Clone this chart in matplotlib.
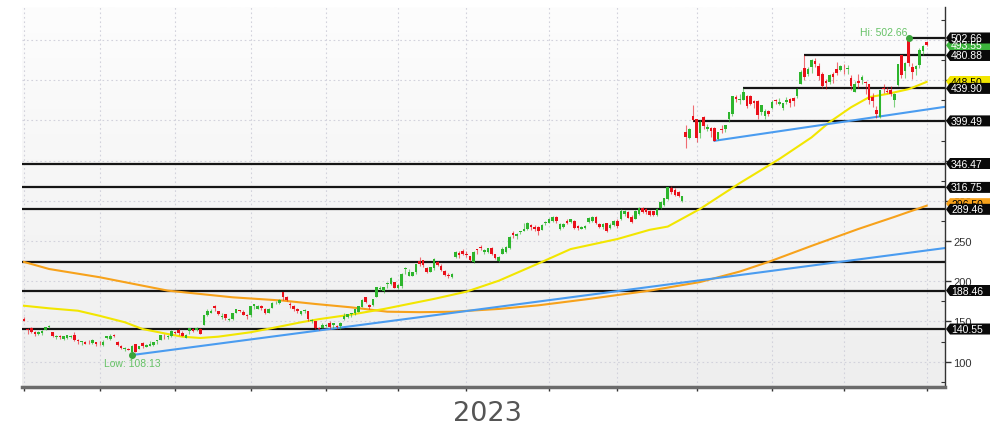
import numpy as np
import matplotlib.pyplot as plt
from matplotlib.patches import Polygon
from matplotlib.transforms import IdentityTransform
from matplotlib.colors import LinearSegmentedColormap

# daily candles, 31 Aug 2022 .. 31 Aug 2023 (one row per month in each list)
opens = [
    153.0,
    141.0, 141.9, 137.0, 134.4, 135.5, 139.8, 143.6, 136.8, 131.0, 131.3, 128.0, 129.3, 130.9, 133.0, 126.0, 124.6, 124.0, 125.0, 123.4, 124.3, 122.0,
    120.8, 128.9, 128.4, 132.9, 125.0, 119.4, 115.5, 115.5, 112.2, 121.9, 116.0, 122.8, 118.2, 120.0, 121.0, 126.0, 126.8, 129.5, 130.9, 131.5, 137.4,
    139.0, 136.0, 129.7, 137.5, 141.0, 139.0, 140.7, 146.0, 158.5, 161.0, 169.0, 162.5, 155.0, 159.0, 152.0, 153.0, 160.7, 163.6, 162.0, 158.0, 158.0,
    169.5, 166.0, 169.5, 166.0, 160.5, 167.0, 172.5, 173.0, 186.0, 180.0, 172.0, 169.0, 166.0, 159.5, 162.5, 162.5, 151.0, 150.0, 141.0, 142.0, 144.0,
    148.5, 145.7, 144.9, 144.7, 152.8, 155.1, 158.9, 161.0, 162.0, 168.5, 180.0, 171.0, 171.0, 180.0, 190.0, 188.0, 196.0, 196.5, 198.5, 191.0,
    194.5, 215.0, 207.0, 207.0, 211.0, 225.0, 226.0, 217.0, 212.0, 216.5, 224.0, 218.5, 212.5, 207.0, 205.0, 230.0, 235.5, 238.0, 234.0,
    231.0, 224.0, 240.0, 242.0, 236.5, 236.5, 241.5, 234.0, 225.5, 234.0, 236.5, 241.0, 259.5, 256.0, 261.0, 263.0, 265.5, 270.5, 268.0, 268.0, 264.0, 272.0, 273.0,
    275.0, 279.5, 265.0, 267.5, 275.5, 273.5, 275.0, 269.0, 265.5, 266.5, 274.0, 275.0, 279.5, 271.0, 267.5, 272.0, 266.0, 270.5, 275.5,
    277.5, 284.0, 286.5, 280.0, 277.5, 283.5, 290.5, 290.0, 287.5, 287.0, 282.0, 291.0, 295.0, 302.5, 316.5, 314.0, 311.5, 299.5, 385.2, 378.0, 405.0, 401.5,
    384.0, 404.0, 390.0, 391.0, 391.0, 377.0, 390.0, 389.0, 402.0, 408.0, 429.0, 426.0, 426.0, 431.0, 430.5, 424.0, 424.0, 410.0, 405.0, 412.0, 415.0,
    425.0, 421.0, 415.0, 423.0, 427.0, 428.0, 430.0, 446.0, 465.0, 458.0, 466.0, 474.0, 468.0, 458.0, 449.0, 448.0, 458.0, 464.0, 463.0, 468.0,
    464.0, 453.0, 436.0, 449.0, 450.0, 448.0, 445.0, 429.0, 413.0, 404.0, 440.0, 437.0, 438.0, 426.0, 444.0, 482.0, 462.0, 502.2, 467.0, 464.0, 469.0, 486.0, 497.8,
]
highs = [
    155.4,
    141.8, 142.8, 137.9, 138.1, 138.8, 143.5, 145.3, 137.1, 133.4, 133.0, 131.4, 133.3, 133.6, 137.0, 127.6, 126.0, 126.0, 127.0, 127.7, 124.4, 125.5,
    126.7, 132.2, 134.0, 133.9, 125.9, 120.2, 118.6, 116.8, 120.5, 122.0, 119.3, 124.0, 122.4, 125.9, 125.0, 127.4, 133.2, 134.0, 133.0, 139.0, 138.0,
    140.0, 137.5, 134.0, 142.0, 141.5, 143.5, 141.6, 158.3, 165.0, 165.6, 170.0, 162.8, 160.0, 159.8, 154.5, 160.5, 166.0, 164.5, 164.6, 158.8, 169.6,
    171.7, 170.6, 170.0, 166.5, 167.0, 174.5, 176.0, 177.5, 187.0, 182.0, 174.0, 170.0, 166.5, 163.0, 165.0, 163.0, 152.5, 150.5, 143.5, 147.5, 146.5,
    149.9, 148.5, 145.2, 149.5, 160.6, 159.6, 160.5, 165.8, 169.1, 178.4, 180.9, 172.0, 178.5, 193.0, 194.5, 193.0, 199.0, 205.0, 199.5, 196.0,
    210.0, 218.0, 215.0, 212.0, 222.0, 230.0, 227.0, 218.0, 218.0, 229.0, 225.0, 221.0, 214.5, 210.0, 210.0, 238.0, 237.0, 240.0, 237.5,
    232.0, 237.0, 240.5, 245.5, 240.5, 241.8, 242.0, 234.5, 232.0, 242.0, 243.5, 256.0, 263.0, 260.5, 263.0, 272.0, 274.0, 271.0, 269.5, 268.5, 271.0, 275.0, 278.5,
    281.0, 281.0, 272.0, 273.0, 277.0, 278.0, 276.0, 270.0, 269.0, 270.0, 280.0, 281.0, 281.0, 273.0, 272.5, 273.0, 272.0, 276.0, 278.0,
    290.0, 289.0, 288.0, 283.0, 288.5, 292.5, 292.0, 291.0, 289.0, 288.0, 290.5, 300.0, 304.0, 317.0, 318.0, 315.5, 312.5, 306.0, 394.8, 391.0, 419.4, 402.0,
    400.0, 405.0, 396.0, 392.0, 392.0, 386.0, 394.0, 395.0, 411.0, 430.0, 432.0, 433.0, 439.9, 432.0, 432.0, 425.0, 425.0, 419.0, 414.0, 413.0, 426.0,
    427.0, 428.0, 422.0, 429.0, 428.0, 429.0, 441.0, 463.0, 480.88, 467.0, 477.0, 478.0, 471.0, 460.0, 452.0, 458.0, 460.0, 473.0, 469.0, 470.0,
    469.0, 456.0, 449.0, 458.0, 456.0, 449.0, 446.0, 434.0, 418.0, 437.7, 445.0, 442.0, 443.0, 434.0, 470.5, 482.0, 472.5, 502.66, 472.0, 469.0, 490.5, 493.5, 499.0,
]
lows = [
    150.2,
    134.6, 135.6, 132.0, 133.5, 133.4, 139.7, 141.8, 131.0, 128.5, 128.6, 126.6, 128.0, 129.6, 126.2, 122.0, 121.1, 121.9, 121.5, 121.5, 119.3, 120.7,
    119.5, 127.9, 127.3, 130.2, 119.9, 115.6, 113.7, 114.5, 108.13, 112.2, 115.3, 116.6, 117.8, 119.8, 119.0, 122.2, 126.5, 128.0, 128.0, 131.0, 134.5,
    133.2, 131.8, 128.9, 134.5, 136.8, 138.0, 134.3, 145.5, 156.7, 160.0, 163.2, 158.0, 153.5, 152.0, 150.0, 152.0, 160.0, 162.0, 157.6, 152.5, 155.7,
    165.5, 165.0, 164.7, 159.0, 160.0, 166.5, 171.5, 171.5, 177.0, 175.0, 167.0, 163.5, 160.0, 158.5, 160.0, 150.0, 148.0, 140.5, 139.5, 141.5, 142.5,
    140.9, 142.0, 141.0, 140.3, 151.4, 154.6, 155.2, 158.0, 161.9, 168.3, 173.3, 164.9, 169.8, 180.0, 188.5, 185.0, 192.0, 195.5, 191.0, 190.5,
    191.0, 209.0, 206.0, 206.0, 209.0, 219.0, 218.0, 210.0, 211.0, 214.0, 219.0, 213.0, 206.5, 204.5, 204.0, 229.0, 229.5, 232.5, 230.5,
    225.0, 223.0, 234.0, 238.5, 234.5, 235.5, 233.0, 227.5, 224.5, 233.5, 235.5, 240.0, 253.5, 252.0, 259.0, 262.0, 263.5, 264.0, 263.0, 258.0, 263.5, 270.0, 272.5,
    274.0, 273.0, 264.0, 266.5, 271.0, 272.5, 265.5, 264.0, 264.5, 265.0, 272.0, 274.0, 271.0, 266.0, 265.5, 261.5, 265.5, 269.0, 266.0,
    276.5, 281.5, 278.5, 273.0, 277.0, 283.0, 285.0, 284.0, 281.0, 281.5, 281.0, 290.0, 294.0, 301.5, 309.0, 306.0, 305.0, 298.5, 366.3, 377.0, 399.49, 373.5,
    378.0, 390.0, 387.0, 380.0, 374.75, 376.0, 385.0, 386.0, 398.0, 405.0, 423.0, 421.0, 425.0, 415.0, 419.0, 416.0, 401.5, 407.0, 402.0, 405.0, 414.0,
    420.0, 419.0, 413.0, 420.0, 417.0, 418.0, 428.0, 445.0, 450.0, 455.0, 459.0, 467.0, 450.0, 440.0, 439.0, 446.0, 447.0, 456.0, 461.0, 458.0,
    458.0, 438.0, 435.0, 440.0, 446.0, 433.0, 420.0, 417.0, 403.0, 403.0, 434.0, 434.0, 431.0, 417.0, 443.0, 453.0, 453.0, 468.2, 452.0, 456.0, 465.0, 482.0, 492.5,
]
closes = [
    150.9,
    139.4, 136.5, 134.4, 137.1, 138.0, 142.9, 144.5, 131.3, 132.0, 130.4, 131.3, 132.6, 131.6, 126.7, 125.6, 125.2, 122.3, 124.1, 127.1, 122.0, 121.4,
    124.7, 131.9, 132.0, 131.3, 120.8, 116.7, 115.9, 115.0, 119.6, 112.3, 118.9, 119.7, 120.5, 121.9, 124.7, 126.0, 132.6, 129.0, 131.8, 138.3, 135.0,
    135.4, 132.0, 133.4, 141.6, 137.5, 142.0, 134.4, 157.5, 163.3, 163.3, 166.7, 159.1, 156.8, 154.1, 153.2, 160.4, 165.2, 163.2, 158.5, 156.8, 169.2,
    171.3, 168.8, 166.5, 159.9, 165.5, 173.5, 173.0, 177.0, 181.0, 176.5, 170.0, 165.5, 162.5, 162.5, 164.5, 153.5, 152.0, 141.2, 140.4, 146.0, 146.1,
    143.2, 147.5, 142.7, 148.6, 156.3, 159.1, 160.0, 165.1, 169.0, 177.0, 173.8, 168.2, 178.4, 192.4, 192.0, 193.0, 198.0, 203.6, 191.5, 195.4,
    209.4, 217.0, 211.0, 211.0, 221.5, 222.0, 220.0, 211.5, 217.5, 228.0, 220.0, 214.0, 207.5, 206.5, 208.5, 236.6, 233.0, 234.5, 232.2,
    226.5, 236.0, 238.9, 241.0, 239.0, 241.0, 234.0, 229.5, 230.0, 240.6, 242.3, 255.4, 257.3, 259.0, 262.0, 264.7, 271.9, 267.8, 265.3, 262.0, 269.8, 273.8, 277.8,
    279.7, 274.5, 271.0, 271.5, 272.5, 277.0, 266.5, 266.0, 267.5, 269.0, 279.0, 279.5, 272.0, 267.0, 271.5, 262.0, 270.5, 275.0, 268.5,
    288.0, 287.5, 279.0, 274.0, 287.5, 290.5, 286.5, 286.0, 282.0, 282.5, 289.5, 299.0, 303.0, 316.8, 311.0, 307.5, 306.5, 305.5, 379.8, 389.5, 401.1, 378.3,
    397.7, 393.3, 391.7, 386.5, 374.8, 385.1, 387.7, 394.8, 410.2, 430.0, 426.5, 426.9, 436.0, 418.5, 421.0, 422.1, 406.3, 418.8, 411.2, 408.2, 423.0,
    424.1, 423.0, 421.8, 425.0, 421.8, 424.0, 439.0, 459.8, 454.7, 464.6, 474.9, 470.8, 455.2, 443.1, 446.1, 456.8, 454.5, 459.0, 467.5, 467.3,
    465.1, 442.7, 445.2, 446.8, 454.2, 446.6, 425.5, 423.9, 408.6, 437.5, 439.4, 434.9, 433.4, 433.0, 469.7, 456.7, 471.2, 471.6, 460.2, 468.4, 487.8, 492.6, 493.6,
]

# last trading day of each month (bar index)
month_ends = [0, 21, 42, 63, 84, 104, 123, 146, 165, 187, 208, 228, 251]

# moving averages (bar index, value)
sma50_x = [0, 7, 15, 21, 28, 33, 40, 44, 49, 54, 63, 70, 77, 82, 91, 100, 114, 123, 132,
           143, 152, 165, 174, 179, 188, 199, 210, 219, 224, 230, 235, 240, 246, 251]
sma50_y = [169.5, 166.3, 163.3, 157.0, 149.0, 140.5, 134.3, 131.0, 129.4, 131.0, 136.5, 142.6,
           148.9, 152.8, 158.5, 165.4, 178.0, 187.0, 200.6, 222.0, 240.0, 252.5, 264.0, 268.0,
           290.0, 322.0, 352.0, 379.0, 398.0, 416.5, 429.0, 433.0, 439.0, 448.0]
sma200_x = [0, 7, 21, 40, 58, 72, 81, 91, 101, 110, 119, 132, 143, 157, 174, 188, 199, 207,
            219, 232, 242, 251]
sma200_y = [224.0, 215.2, 205.0, 188.3, 180.0, 175.9, 171.7, 167.5, 162.1, 161.5, 162.0, 165.5,
            170.0, 177.9, 188.3, 199.0, 212.0, 224.0, 244.0, 265.0, 280.0, 294.0]

# trend lines (start/end bar index and value)
trend_x = [[30, 256.1], [192, 256.1]]
trend_y = [[108.13, 241.3], [374.75, 417.0]]

# horizontal levels: value, first bar (None = whole width), tagged on the axis
levels = [502.66, 480.88, 439.90, 399.49, 346.47, 316.75, 289.46, 223.6, 188.46, 140.55]
level_start = [246, 217, 200, 186, None, None, None, None, None, None]
level_tag = [True, True, True, True, True, True, True, False, True, True]

yticks = [100, 150, 200, 250, 300, 350, 400, 450, 500]
ytick_labels = ["100", "150", "200", "250", "300", "", "", "", ""]  # upper ones sit under the tags

last_close = 493.55
sma50_last = 448.5
sma200_last = 296.5
hi_idx, hi_val = 246, 502.66
lo_idx, lo_val = 30, 108.13

XMIN, XMAX = -0.56, 256.1
YMIN, YMAX = 68.4, 541.2

fig = plt.figure(figsize=(9.9, 4.31), dpi=100)
ax = fig.add_axes([22 / 990, 43 / 431, 923 / 990, 380 / 431])

# soft vertical gradient behind the plot
grad = LinearSegmentedColormap.from_list("bg", ["#eeeeee", "#fdfdfd"])
ax.imshow(np.linspace(0, 1, 256)[:, None], cmap=grad, origin="lower", aspect="auto",
          extent=[XMIN, XMAX, YMIN, YMAX], zorder=0)

# levels
for v, s in zip(levels, level_start):
    x0 = XMIN if s is None else s
    ax.plot([x0, XMAX], [v, v], color="#151515", lw=1.6, zorder=2, solid_capstyle="butt")

# moving averages and trend lines
ax.plot(sma200_x, sma200_y, color="#f7a21b", lw=1.5, zorder=2.5)
ax.plot(sma50_x, sma50_y, color="#f2e600", lw=1.5, zorder=2.5)
for tx, ty in zip(trend_x, trend_y):
    ax.plot(tx, ty, color="#4a9cf0", lw=1.5, zorder=2.5)

# candles
x = np.arange(len(closes))
o = np.array(opens)
c = np.array(closes)
col = np.where(c >= o, "#2db52d", "#ea101a")
ax.vlines(x, lows, highs, colors=col, lw=0.8, alpha=0.6, zorder=3)
ax.bar(x, np.maximum(np.abs(c - o), 0.9), bottom=np.minimum(o, c), width=0.72,
       color=col, linewidth=0, zorder=4)

# hi / low markers
ax.plot([hi_idx, lo_idx], [hi_val, lo_val], "o", ms=4, color="#3aa43a", zorder=5)
ax.text(hi_idx - 0.3, 510.0, "Hi: 502.66", ha="right", va="center", color="#66c266",
        fontsize=7.5, family="Liberation Sans", zorder=5)
ax.text(lo_idx, 98.2, "Low: 108.13", ha="center", va="center", color="#66c266",
        fontsize=7.5, family="Liberation Sans", zorder=5)

ax.set_xlim(XMIN, XMAX)
ax.set_ylim(YMIN, YMAX)

# axes dressing
ax.set_xticks(month_ends)
ax.set_xticklabels([])
ax.yaxis.tick_right()
ax.set_yticks(yticks)
ax.set_yticklabels(ytick_labels)
ax.set_yticks(range(75, 526, 50), minor=True)
ax.tick_params(axis="y", which="major", direction="out", length=4, width=1, colors="#333333",
               labelsize=8, pad=2)
ax.tick_params(axis="y", which="minor", direction="in", length=3, width=0.8, colors="#333333")
ax.tick_params(axis="x", direction="out", length=3, width=1, colors="#333333")
for lab in ax.get_yticklabels():
    lab.set_family("Liberation Sans")
ax.grid(True, color="#d2d2dc", lw=0.8, ls=(0, (1.5, 2.5)), zorder=1)
ax.set_axisbelow(True)
for side in ["left", "top"]:
    ax.spines[side].set_visible(False)
ax.spines["bottom"].set_color("#6b6b6b")
ax.spines["bottom"].set_linewidth(2.5)
ax.spines["right"].set_color("#333333")
ax.spines["right"].set_linewidth(1)

fig.text(487 / 990, 1 - 414 / 431, "2023", ha="center", va="center", fontsize=19.5, color="#555555")


# value tags on the right axis, drawn in pixel space
def tag(val, text, fc, tc):
    yp = ax.transData.transform((0, val))[1]
    xp = ax.transAxes.transform((1, 0))[0]
    h = 5.5
    pts = [(xp + 1, yp), (xp + 5, yp + h), (xp + 60, yp + h), (xp + 60, yp - h), (xp + 5, yp - h)]
    fig.add_artist(Polygon(pts, closed=True, transform=IdentityTransform(), fc=fc, ec="none"))
    fig.text(xp + 6, yp, text, transform=IdentityTransform(), ha="left", va="center",
             fontsize=7.5, color=tc, family="Liberation Sans")


tag(sma200_last, "%.2f" % sma200_last, "#f7a21b", "black")
tag(sma50_last, "%.2f" % sma50_last, "#f2e600", "black")
tag(last_close, "%.2f" % last_close, "#3cb43c", "white")
for v, t in zip(levels, level_tag):
    if t:
        tag(v, "%.2f" % v, "#0a0a0a", "white")

fig.savefig("out.png", dpi=100)
